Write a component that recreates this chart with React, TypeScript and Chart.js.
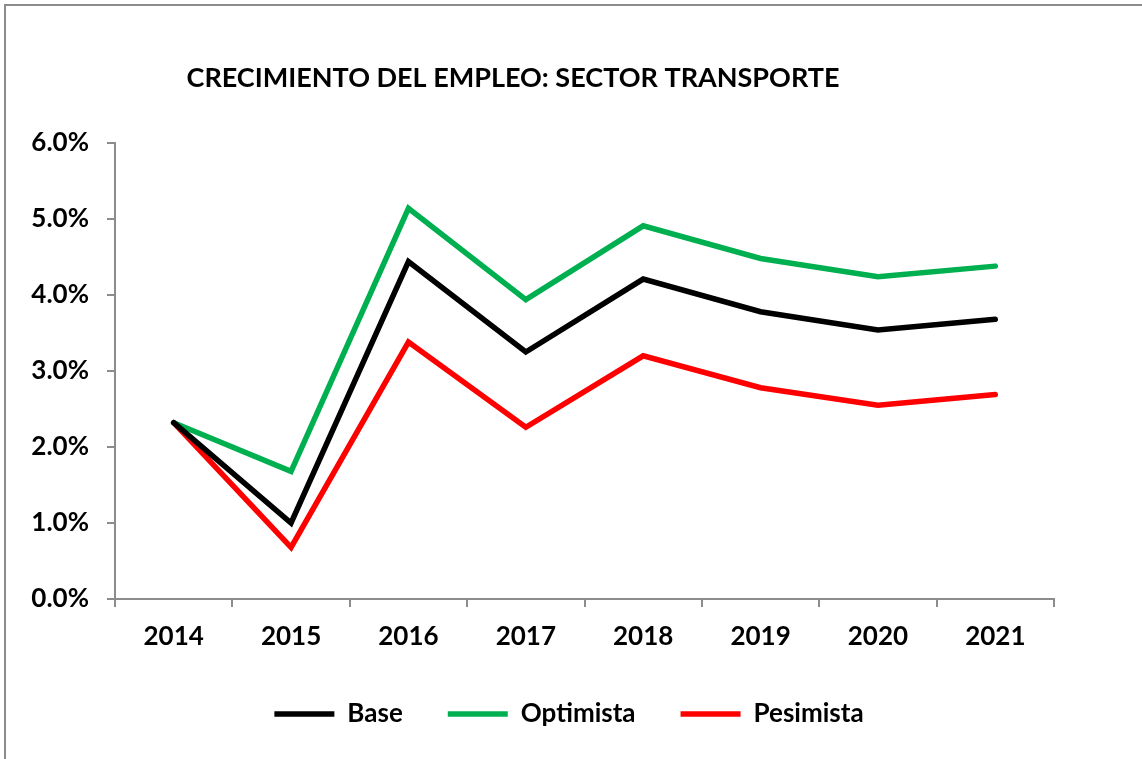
import React, { useEffect, useRef } from "react";
import { Chart, registerables } from "chart.js";

Chart.register(...registerables);

const TITLE = "CRECIMIENTO DEL EMPLEO: SECTOR TRANSPORTE";
const years = ["2014", "2015", "2016", "2017", "2018", "2019", "2020", "2021"];
const base = [2.32, 1.0, 4.44, 3.25, 4.21, 3.78, 3.54, 3.68];
const optimista = [2.32, 1.68, 5.14, 3.94, 4.91, 4.48, 4.24, 4.38];
const pesimista = [2.32, 0.68, 3.38, 2.26, 3.2, 2.78, 2.55, 2.69];
const seriesNames = ["Base", "Optimista", "Pesimista"];
const seriesColors = ["#000000", "#00B050", "#FF0000"];
const yMin = 0;
const yMax = 6;
const yStep = 1;

const FONT = "Lato, 'Noto Sans', sans-serif";

const titlePlugin = {
  id: "customTitle",
  afterDraw(chart: any) {
    const ctx = chart.ctx;
    ctx.save();
    ctx.font = `bold 27px ${FONT}`;
    ctx.fillStyle = "#000";
    ctx.textAlign = "center";
    ctx.textBaseline = "middle";
    ctx.fillText(TITLE, 513, 78);
    ctx.restore();
  },
};

// shift the legend box so that it is centred like the original
const legendShiftPlugin = {
  id: "legendShift",
  afterLayout(chart: any) {
    if (chart.legend) chart.legend.left += 54;
  },
};

export default function App() {
  const ref = useRef<HTMLCanvasElement | null>(null);

  useEffect(() => {
    if (!ref.current) return;
    const all = [base, optimista, pesimista];
    const chart = new Chart(ref.current, {
      type: "line",
      data: {
        labels: years,
        datasets: all.map((d, i) => ({
          label: seriesNames[i],
          data: d,
          borderColor: seriesColors[i],
          backgroundColor: seriesColors[i],
          borderWidth: 5.5,
          borderCapStyle: "round",
          borderJoinStyle: "miter",
          pointRadius: 0,
          pointHoverRadius: 0,
          tension: 0,
          fill: false,
        })),
      },
      options: {
        animation: false,
        responsive: false,
        maintainAspectRatio: false,
        layout: { padding: { left: 30, right: 88, top: 143, bottom: 22 } },
        plugins: {
          title: { display: false },
          tooltip: { enabled: false },
          legend: {
            display: true,
            position: "bottom",
            labels: {
              usePointStyle: true,
              pointStyle: "line",
              pointStyleWidth: 60,
              boxWidth: 60,
              boxHeight: 6,
              padding: 45,
              color: "#000",
              font: { family: FONT, size: 26, weight: "bold" },
            },
          },
        },
        scales: {
          x: {
            type: "category",
            offset: true,
            afterFit: (s: any) => {
              s.height = 57;
            },
            grid: {
              offset: true,
              drawOnChartArea: false,
              drawTicks: true,
              tickLength: 8,
              color: "#8c8c8c",
              lineWidth: 2,
            },
            border: { display: true, color: "#8c8c8c", width: 2 },
            ticks: {
              color: "#000",
              padding: 14,
              maxRotation: 0,
              font: { family: FONT, size: 26, weight: "bold" },
            },
          },
          y: {
            min: yMin,
            max: yMax,
            afterFit: (s: any) => {
              s.width = 85;
            },
            grid: {
              drawOnChartArea: false,
              drawTicks: true,
              tickLength: 8,
              color: "#8c8c8c",
              lineWidth: 2,
            },
            border: { display: true, color: "#8c8c8c", width: 2 },
            ticks: {
              stepSize: yStep,
              color: "#000",
              padding: 18,
              font: { family: FONT, size: 26, weight: "bold" },
              callback: (v: any) => Number(v).toFixed(1) + "%",
            },
          },
        },
      },
      plugins: [titlePlugin, legendShiftPlugin],
    } as any);
    return () => chart.destroy();
  }, []);

  return (
    <div
      style={{
        position: "fixed",
        left: 0,
        top: 0,
        width: 1142,
        height: 759,
        overflow: "hidden",
        background: "#fff",
      }}
    >
      <div
        style={{
          position: "absolute",
          left: 4,
          top: 4,
          width: 1300,
          height: 900,
          border: "2px solid #8c8c8c",
          boxSizing: "border-box",
        }}
      />
      <canvas
        ref={ref}
        width={1142}
        height={759}
        style={{ position: "absolute", left: 0, top: 0, width: 1142, height: 759 }}
      />
    </div>
  );
}
